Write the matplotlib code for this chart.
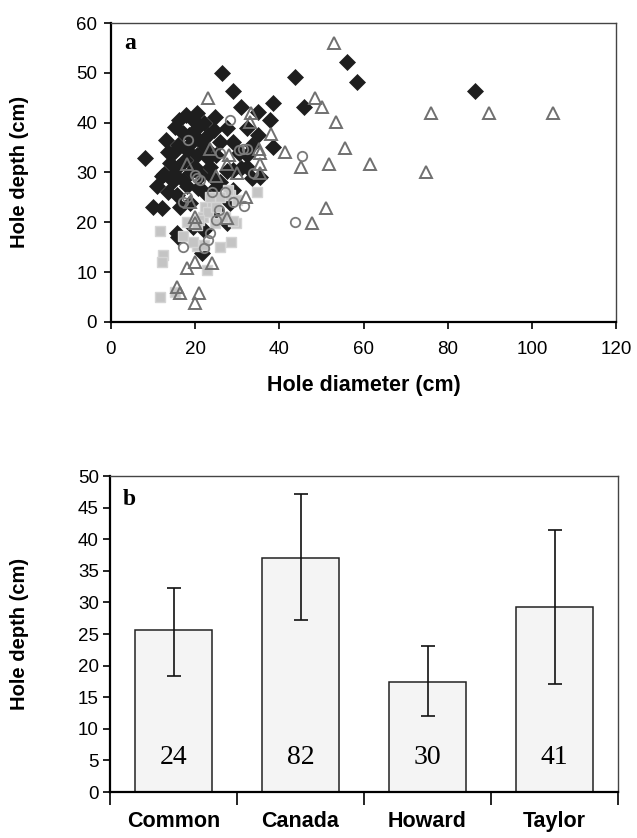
import matplotlib
matplotlib.use("Agg")
import matplotlib.pyplot as plt
import numpy as np

plt.rcParams['font.family'] = ['Liberation Sans', 'DejaVu Sans']

# ---- Panel a data (hole diameter, hole depth) ----
canada_x = [8, 10, 12, 10.9, 12, 13.6, 14.8, 15.6, 12.7, 15, 13.6, 15, 16, 20, 23.5, 16.4, 18.8, 18, 20.7,
            15.6, 16, 21.6, 27.5, 28.3, 27.5, 29, 31, 32.2, 33.4, 32.2, 38.6, 25.9, 29.1, 27.5, 32.2, 37.8,
            34.9, 24.7, 31, 38.4, 26.3, 28.9, 43.7, 45.9, 56, 58.5, 86.5, 15.2, 16.2, 19.6, 17, 18.5, 20, 21,
            22, 19, 21, 23, 22.5, 16, 18, 20.5, 23, 25, 17.5, 19, 21.5, 24, 26, 22, 25, 14, 17, 13, 24.5,
            20.5, 17.8, 30.5, 33.5, 35.5, 25, 22, 19.5, 29, 35]
canada_y = [33, 23, 22.8, 27.2, 29.2, 26.1, 28.2, 25.5, 29.6, 29.6, 34.2, 34.2, 31.2, 31.2, 31.2, 23.1, 23.8,
            27.2, 26.8, 17.8, 17, 13.8, 19.8, 23.8, 30.3, 30.5, 31, 31.2, 28.8, 33.5, 35.2, 36.2, 36.2, 38.9,
            38.9, 40.5, 42.2, 41.1, 43.2, 43.9, 49.9, 46.4, 49.2, 43.2, 52.2, 48.2, 46.4, 39.2, 40.5, 40.5,
            38, 37.5, 38.5, 39.5, 40, 36, 36.5, 37.5, 35, 35.5, 34.5, 33.5, 33, 33.5, 32.5, 30, 29.5, 29, 28,
            26, 27, 32, 28.5, 36.5, 38.5, 42, 41.5, 34, 35.5, 29, 22.5, 18.5, 19, 26.5, 37.5]

taylor_x = [23, 33.3, 33, 38, 41.3, 23.5, 35.2, 35.4, 18, 27.5, 29.9, 35.3, 35.3, 24.9, 20, 20, 27.5, 18.1,
            20, 23.9, 15.8, 16.4, 21, 20, 18.8, 53, 48.5, 50.1, 53.5, 76, 89.8, 105, 55.6, 45.1, 51.8, 61.5,
            74.8, 51, 47.7, 32, 28]
taylor_y = [44.9, 41.9, 40.2, 37.7, 34.2, 34.8, 34.8, 33.9, 31.8, 31.7, 29.8, 31.7, 29.8, 29.2, 21.1, 19.8,
            20.8, 10.8, 12.1, 11.9, 7.1, 5.9, 5.9, 3.9, 24.1, 55.9, 44.9, 43.2, 40.2, 42, 42, 42, 35, 31.2,
            31.7, 31.7, 30, 22.8, 19.8, 25, 33.5]

common_x = [28.3, 18.4, 31.3, 32.2, 20, 33.8, 21.1, 23.9, 17.2, 18, 25.7, 31.7, 23, 23.5, 17, 43.7, 45.5,
            26, 25, 30.5, 22, 29, 27, 20.5]
common_y = [40.5, 36.5, 34.7, 34.7, 29.5, 29.8, 28.5, 26.1, 24.1, 25, 22.5, 23.3, 16.5, 17.8, 15.1, 20,
            33.3, 34, 20.5, 34.5, 14.8, 24, 26, 28.9]

howard_x = [11.6, 12.4, 12, 11.6, 15.2, 17.2, 18, 20.4, 22.3, 21.9, 24.7, 25.9, 22.7, 28.3, 27.8, 29.8, 34.6,
            23, 24, 26, 21, 19.5, 22, 27, 29, 23.5, 30, 20.5, 25, 28.5]
howard_y = [18.3, 13.4, 12.1, 5.1, 6.1, 17.3, 20.1, 15.3, 23.1, 21.1, 19.8, 15.1, 10.4, 25.5, 26.5, 19.8, 26,
            22, 24, 25, 20.5, 16, 15.5, 21, 20.3, 25, 24.5, 19.5, 23, 16]

# ---- Panel b data ----
species = ['Common', 'Canada', 'Howard', 'Taylor']
mean_depth = [25.6, 37.0, 17.4, 29.3]
err_low = [18.3, 27.2, 12.0, 17.1]
err_high = [32.2, 47.2, 23.1, 41.5]
n_holes = [24, 82, 30, 41]

fig = plt.figure(figsize=(6.37, 8.38), dpi=100)

TICK_FS = 13.5
LABEL_FS = 15.5
YLABEL_FS = 14.5

# ---------------- Panel a ----------------
ax1 = fig.add_axes([111/637, 1-322/838, 505/637, 299/838])
ax1.plot(canada_x, canada_y, 'D', ms=8, mfc='#1e1e1e', mec='#1e1e1e', mew=0.5, ls='none', zorder=3)
ax1.plot(howard_x, howard_y, 's', ms=7, mfc='#c4c4c4', mec='#d4d4d4', mew=1, ls='none', zorder=4)
ax1.plot(taylor_x, taylor_y, '^', ms=8.5, mfc='none', mec='#707070', mew=1.4, ls='none', zorder=5)
ax1.plot(common_x, common_y, 'o', ms=6.8, mfc='none', mec='#7a7a7a', mew=1.3, ls='none', zorder=6)

ax1.set_xlim(0, 120)
ax1.set_ylim(0, 60)
ax1.set_xticks(np.arange(0, 121, 20))
ax1.set_yticks(np.arange(0, 61, 10))
ax1.tick_params(direction='out', length=5, width=1.2, labelsize=TICK_FS, pad=5)
ax1.tick_params(axis='x', pad=9)
for s in ['left', 'bottom']:
    ax1.spines[s].set_linewidth(1.6)
    ax1.spines[s].set_color('black')
for s in ['top', 'right']:
    ax1.spines[s].set_linewidth(1.0)
    ax1.spines[s].set_color('#444444')
ax1.set_xlabel('Hole diameter (cm)', fontsize=LABEL_FS, fontweight='bold', labelpad=12)
ax1.set_ylabel('Hole depth (cm)', fontsize=YLABEL_FS, fontweight='bold')
ax1.yaxis.set_label_coords(29/637, 1-172/838, transform=fig.transFigure)
ax1.text(0.026, 0.93, 'a', transform=ax1.transAxes, fontsize=17, fontweight='bold',
         family=['Liberation Serif', 'DejaVu Serif'], va='center', ha='left')

# ---------------- Panel b ----------------
ax2 = fig.add_axes([110/637, 1-792/838, 508/637, 316/838])
pos = np.arange(len(species))
mean_arr = np.array(mean_depth)
yerr = [mean_arr - np.array(err_low), np.array(err_high) - mean_arr]
ax2.bar(pos, mean_depth, width=0.6, color='#f4f4f4', edgecolor='#222222', linewidth=1.1, zorder=2)
ax2.errorbar(pos, mean_depth, yerr=yerr, fmt='none', ecolor='#111111', elinewidth=1.2,
             capsize=5, capthick=1.2, zorder=3)
for p, n in zip(pos, n_holes):
    ax2.text(p, 5.4, str(n), ha='center', va='center', fontsize=20,
             family=['Liberation Serif', 'DejaVu Serif'], zorder=4)
ax2.set_xlim(-0.5, len(species) - 0.5)
ax2.set_ylim(0, 50)
ax2.set_yticks(np.arange(0, 51, 5))
ax2.set_xticks(np.arange(-0.5, len(species), 1.0))
ax2.set_xticklabels([])
ax2.set_xticks(pos, minor=True)
ax2.set_xticklabels(species, minor=True, fontsize=LABEL_FS, fontweight='bold')
ax2.tick_params(axis='x', which='minor', length=0, pad=14)
ax2.tick_params(axis='x', which='major', direction='out', length=9, width=1.2)
ax2.tick_params(axis='y', direction='out', length=5, width=1.2, labelsize=TICK_FS, pad=3)
for s in ['left', 'bottom']:
    ax2.spines[s].set_linewidth(1.6)
    ax2.spines[s].set_color('black')
for s in ['top', 'right']:
    ax2.spines[s].set_linewidth(1.0)
    ax2.spines[s].set_color('#444444')
ax2.set_ylabel('Hole depth (cm)', fontsize=YLABEL_FS, fontweight='bold')
ax2.yaxis.set_label_coords(29/637, 1-634/838, transform=fig.transFigure)
ax2.text(0.026, 0.925, 'b', transform=ax2.transAxes, fontsize=17, fontweight='bold',
         family=['Liberation Serif', 'DejaVu Serif'], va='center', ha='left')

fig.savefig('out.png', dpi=100)
